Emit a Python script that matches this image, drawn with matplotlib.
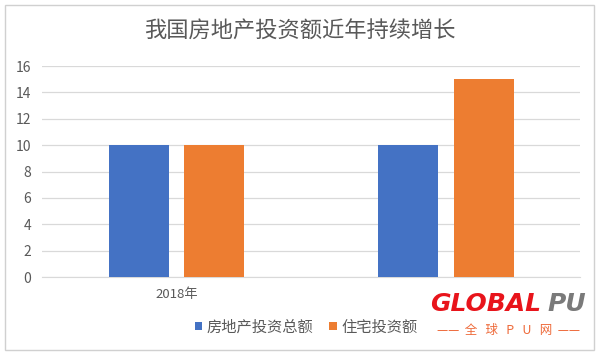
import matplotlib

matplotlib.use("Agg")
import matplotlib.pyplot as plt
import numpy as np
from matplotlib.patches import Rectangle

plt.rcParams["font.family"] = ["Noto Sans CJK SC", "DejaVu Sans"]

categories = ["2018年", ""]
series_names = ["房地产投资总额", "住宅投资额"]
total_invest = [10, 10]
housing_invest = [10, 15]
yticks = [0, 2, 4, 6, 8, 10, 12, 14, 16]

colors = ["#4472C4", "#ED7D31"]
grey = "#595959"

fig = plt.figure(figsize=(6.0, 3.55), dpi=100)
ax = fig.add_axes([0.07, 0.2197, 0.897, 0.5943])

x = np.arange(len(categories))
w = 0.223
off = 0.141
ax.bar(x - off, total_invest, w, color=colors[0], label=series_names[0], zorder=3)
ax.bar(x + off, housing_invest, w, color=colors[1], label=series_names[1], zorder=3)

ax.set_xlim(-0.5, 1.5)
ax.set_ylim(0, 16)
ax.set_yticks(yticks)
ax.set_xticks(x)
ax.set_xticklabels(categories)
ax.tick_params(axis="y", length=0, labelsize=10, colors=grey, pad=8)
ax.tick_params(axis="x", length=0, labelsize=9.5, colors=grey, pad=8)
ax.grid(axis="y", color="#D9D9D9", lw=0.9, zorder=0)
for s in ["top", "right", "left"]:
    ax.spines[s].set_visible(False)
ax.spines["bottom"].set_color("#D9D9D9")

fig.text(0.5, 0.912, "我国房地产投资额近年持续增长", ha="center", va="center",
         fontsize=16, color=grey)

fig.legend(loc="center", bbox_to_anchor=(0.51, 0.079), ncol=2, frameon=False,
           fontsize=11, handlelength=0.5, handleheight=0.5, handletextpad=0.3,
           columnspacing=1.0, labelcolor=grey)

# chart frame
fig.patches.append(Rectangle((0.008, 0.015), 0.982, 0.972, transform=fig.transFigure,
                             fill=False, ec="#D0D0D0", lw=1))

# watermark logo
fig.text(0.902, 0.145, "GLOBAL", ha="right", va="center", fontsize=18,
         fontweight="bold", style="italic", color="#E8141B", family="DejaVu Sans")
fig.text(0.912, 0.145, "PU", ha="left", va="center", fontsize=18,
         fontweight="bold", style="italic", color="#7A7A7A", family="DejaVu Sans")
fig.text(0.848, 0.068, "——  全   球   P   U   网  ——", ha="center", va="center",
         fontsize=9, color="#EE6A3A")

fig.savefig("out.png", dpi=100)
